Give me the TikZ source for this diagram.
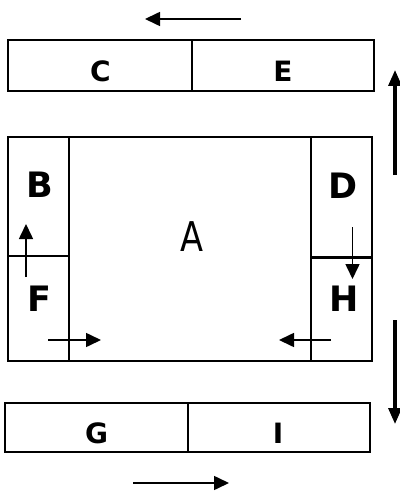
\documentclass[tikz,border=0pt]{standalone}
\usepackage{fontspec}
\setmainfont{DejaVu Sans}
\usetikzlibrary{arrows.meta}
\begin{document}
\begin{tikzpicture}[x=1pt,y=-1pt,
  boxline/.style={line width=2.7pt, line cap=rect},
  divline/.style={line width=2.5pt},
  bigl/.style={inner sep=0pt, font=\fontsize{35}{35}\bfseries\selectfont},
  smalll/.style={inner sep=0pt, font=\fontsize{28}{28}\bfseries\selectfont},
  arr/.style={line width=1.6pt, -{Triangle[length=15pt,width=14pt]}},
  bigarr/.style={line width=3.2pt, -{Triangle[length=16pt,width=13pt]}}]
\useasboundingbox (0,0) rectangle (399,492);
% top box
\draw[boxline] (8,40) rectangle (374,91);
\draw[divline] (192,40) -- (192,91);
\node[smalll] (c) at (100.5,71.5) {C};
\node[smalll] (e) at (283,71.5) {E};
% main box
\draw[boxline] (8,137) rectangle (372,361);
\draw[divline] (69,137) -- (69,361);
\draw[divline] (311,137) -- (311,361);
\draw[divline] (8,256) -- (69,256);
\draw[divline] (311,257.5) -- (372,257.5);
\node[inner sep=0pt, font=\fontsize{41}{41}\selectfont] (a) at (192,237) {\scalebox{0.82}[1]{A}};
\node[bigl] (b) at (40,185) {B};
\node[bigl] (d) at (343.5,186) {D};
\node[bigl] (f) at (39,299) {F};
\node[bigl] (h) at (344,298.5) {H};
% bottom box
\draw[boxline] (5,403) rectangle (370,452);
\draw[divline] (188,403) -- (188,452);
\node[smalll] (g) at (96.5,433) {G};
\node[smalll] (i) at (278,433) {I};
% arrow end points
\coordinate (t1) at (241,19);   \coordinate (t2) at (145,19);
\coordinate (bf1) at (26,277);  \coordinate (bf2) at (26,224);
\coordinate (dh1) at (352.5,227); \coordinate (dh2) at (352.5,279);
\coordinate (f1) at (48,340);   \coordinate (f2) at (101,340);
\coordinate (h1) at (331,340);  \coordinate (h2) at (279,340);
\coordinate (r1) at (395,175);  \coordinate (r2) at (395,70);
\coordinate (s1) at (395,320);  \coordinate (s2) at (395,424);
\coordinate (u1) at (133,483);  \coordinate (u2) at (229,483);
\draw[arr] (t1) -- (t2);
\draw[arr] (bf1) -- (bf2);
\draw[arr] (dh1) -- (dh2);
\draw[arr] (f1) -- (f2);
\draw[arr] (h1) -- (h2);
\draw[bigarr] (r1) -- (r2);
\draw[bigarr] (s1) -- (s2);
\draw[arr] (u1) -- (u2);
\end{tikzpicture}
\end{document}
